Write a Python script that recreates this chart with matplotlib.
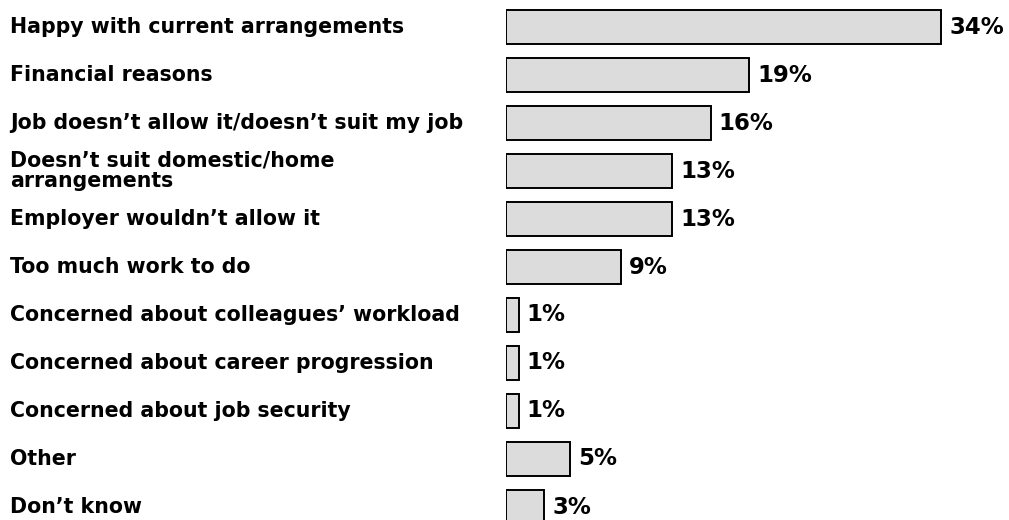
import matplotlib
matplotlib.use("Agg")
import matplotlib.pyplot as plt
from matplotlib.transforms import blended_transform_factory

categories = [
    "Happy with current arrangements",
    "Financial reasons",
    "Job doesn\u2019t allow it/doesn\u2019t suit my job",
    "Doesn\u2019t suit domestic/home\narrangements",
    "Employer wouldn\u2019t allow it",
    "Too much work to do",
    "Concerned about colleagues\u2019 workload",
    "Concerned about career progression",
    "Concerned about job security",
    "Other",
    "Don\u2019t know",
]
values = [34, 19, 16, 13, 13, 9, 1, 1, 1, 5, 3]
value_labels = ["34%", "19%", "16%", "13%", "13%", "9%", "1%", "1%", "1%", "5%", "3%"]

W, H = 1009, 520
fig = plt.figure(figsize=(W / 100, H / 100), dpi=100)
left_px = 506
ax = fig.add_axes([left_px / W, 0, (W - left_px) / W, 1])
px_per_pct = 12.8
ax.set_xlim(0, (W - left_px) / px_per_pct)
row = 48.0
ax.set_ylim((H - 27) / row, -27 / row)
ax.axis("off")

y = list(range(len(categories)))
ax.barh(y, values, height=0.72, color="#dcdcdc", edgecolor="black", linewidth=1.4)

trans = blended_transform_factory(fig.transFigure, ax.transData)
for i, (cat, v, lab) in enumerate(zip(categories, values, value_labels)):
    ax.text(10 / W, i, cat, transform=trans, ha="left", va="center",
            fontsize=14.8, fontweight="bold", family="DejaVu Sans",
            linespacing=1.0, clip_on=False)
    ax.annotate(lab, (v, i), xytext=(8, 0), textcoords="offset pixels",
                ha="left", va="center", fontsize=16.5, fontweight="bold",
                family="DejaVu Sans", annotation_clip=False)

fig.savefig("out.png", dpi=100)
